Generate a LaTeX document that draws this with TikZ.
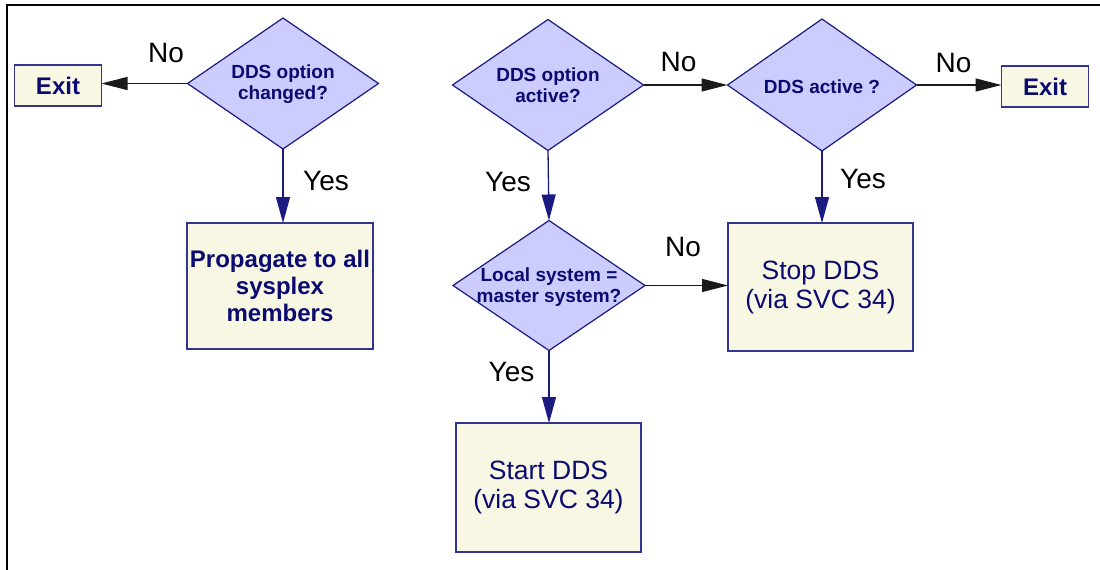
\documentclass[tikz,border=0pt]{standalone}
\usepackage{fontspec}
\setmainfont{Liberation Sans}
\usetikzlibrary{shapes.geometric,arrows.meta}

\definecolor{decfill}{HTML}{CCCCFF}
\definecolor{decline}{HTML}{1A1A80}
\definecolor{boxfill}{HTML}{F8F7E3}
\definecolor{boxline}{HTML}{333390}
\definecolor{ink}{HTML}{0A0A70}
\definecolor{flowblack}{HTML}{1A1A1A}

\tikzset{
  decision/.style={diamond, draw=decline, fill=decfill, line width=1.2pt,
    inner sep=0pt, outer sep=0pt, minimum width=191pt, minimum height=131pt},
  dtext/.style={inner sep=0pt, align=center, text=ink,
    font=\fontsize{19}{20.5}\selectfont\bfseries},
  procbox/.style={rectangle, draw=boxline, fill=boxfill, line width=1.4pt,
    inner sep=0pt, outer sep=0pt, align=center, text=ink},
  exitbox/.style={procbox, minimum width=87pt, minimum height=41pt,
    font=\fontsize{24}{26}\selectfont\bfseries},
  plainbox/.style={procbox, minimum width=185pt, minimum height=128pt,
    font=\fontsize{26.5}{29}\selectfont},
  boldbox/.style={procbox, minimum width=186pt, minimum height=126pt,
    font=\fontsize{24}{26.7}\selectfont\bfseries},
  answer/.style={inner sep=0pt, text=black, font=\fontsize{28}{30}\selectfont},
  sideflow/.style={draw=flowblack, line width=1.3pt,
    -{Triangle[length=26pt,width=13pt]}},
  downflow/.style={draw=decline, line width=1.3pt,
    -{Triangle[length=26pt,width=14pt]}, color=decline},
}

\begin{document}
\begin{tikzpicture}[x=1pt,y=-1pt]
\useasboundingbox (0,0) rectangle (1100,570);

% frame
\draw[line width=2pt, black] (7,570) -- (7,5.3) -- (1100,5.3);

% decisions
\node[decision] (d1) at (283,83.5) {};
\node[dtext] (d1t) at (283,84) {DDS option\\changed?};
\node[decision] (d2) at (548,85) {};
\node[dtext] (d2t) at (548,85) {DDS option\\active?};
\node[decision, minimum width=189pt, minimum height=132pt] (d3) at (822,85) {};
\node[dtext] (d3t) at (822,87) {DDS active ?};
\node[decision, minimum width=192pt, minimum height=130pt] (d4) at (549,285.5) {};
\node[dtext] (d4t) at (549,287) {Local system =\\master system?};

% actions
\node[exitbox] (exitL) at (58,85.5) {Exit};
\node[exitbox] (exitR) at (1045,86.5) {Exit};
\node[boldbox] (prop) at (280,286) {Propagate to all\\sysplex\\members};
\node[plainbox] (stop) at (820.5,287) {Stop DDS\\(via SVC 34)};
\node[plainbox, minimum height=129pt] (start) at (548.5,487.5) {Start DDS\\(via SVC 34)};

% connectors
\draw[sideflow] (d1.west) -- (d1.west -| exitL.east);
\draw[sideflow] (d2.east) -- (d3.west);
\draw[sideflow] (d3.east) -- (d3.east -| exitR.west);
\draw[sideflow] (d4.east) -- (d4.east -| stop.west);
\draw[downflow] (d1.south) -- (d1.south |- prop.north);
\draw[downflow] (d2.south) -- (d4.north);
\draw[downflow] (d3.south) -- (d3.south |- stop.north);
\draw[downflow] (d4.south) -- (d4.south |- start.north);

% answers
\node[answer] (no1) at (166,53) {No};
\node[answer] (no2) at (678.5,61.7) {No};
\node[answer] (no3) at (953.5,63.3) {No};
\node[answer] (no4) at (683,246.7) {No};
\node[answer] (yes1) at (326,181) {Yes};
\node[answer] (yes2) at (508,182.5) {Yes};
\node[answer] (yes3) at (863,179) {Yes};
\node[answer] (yes4) at (511.5,371.7) {Yes};
\end{tikzpicture}
\end{document}
